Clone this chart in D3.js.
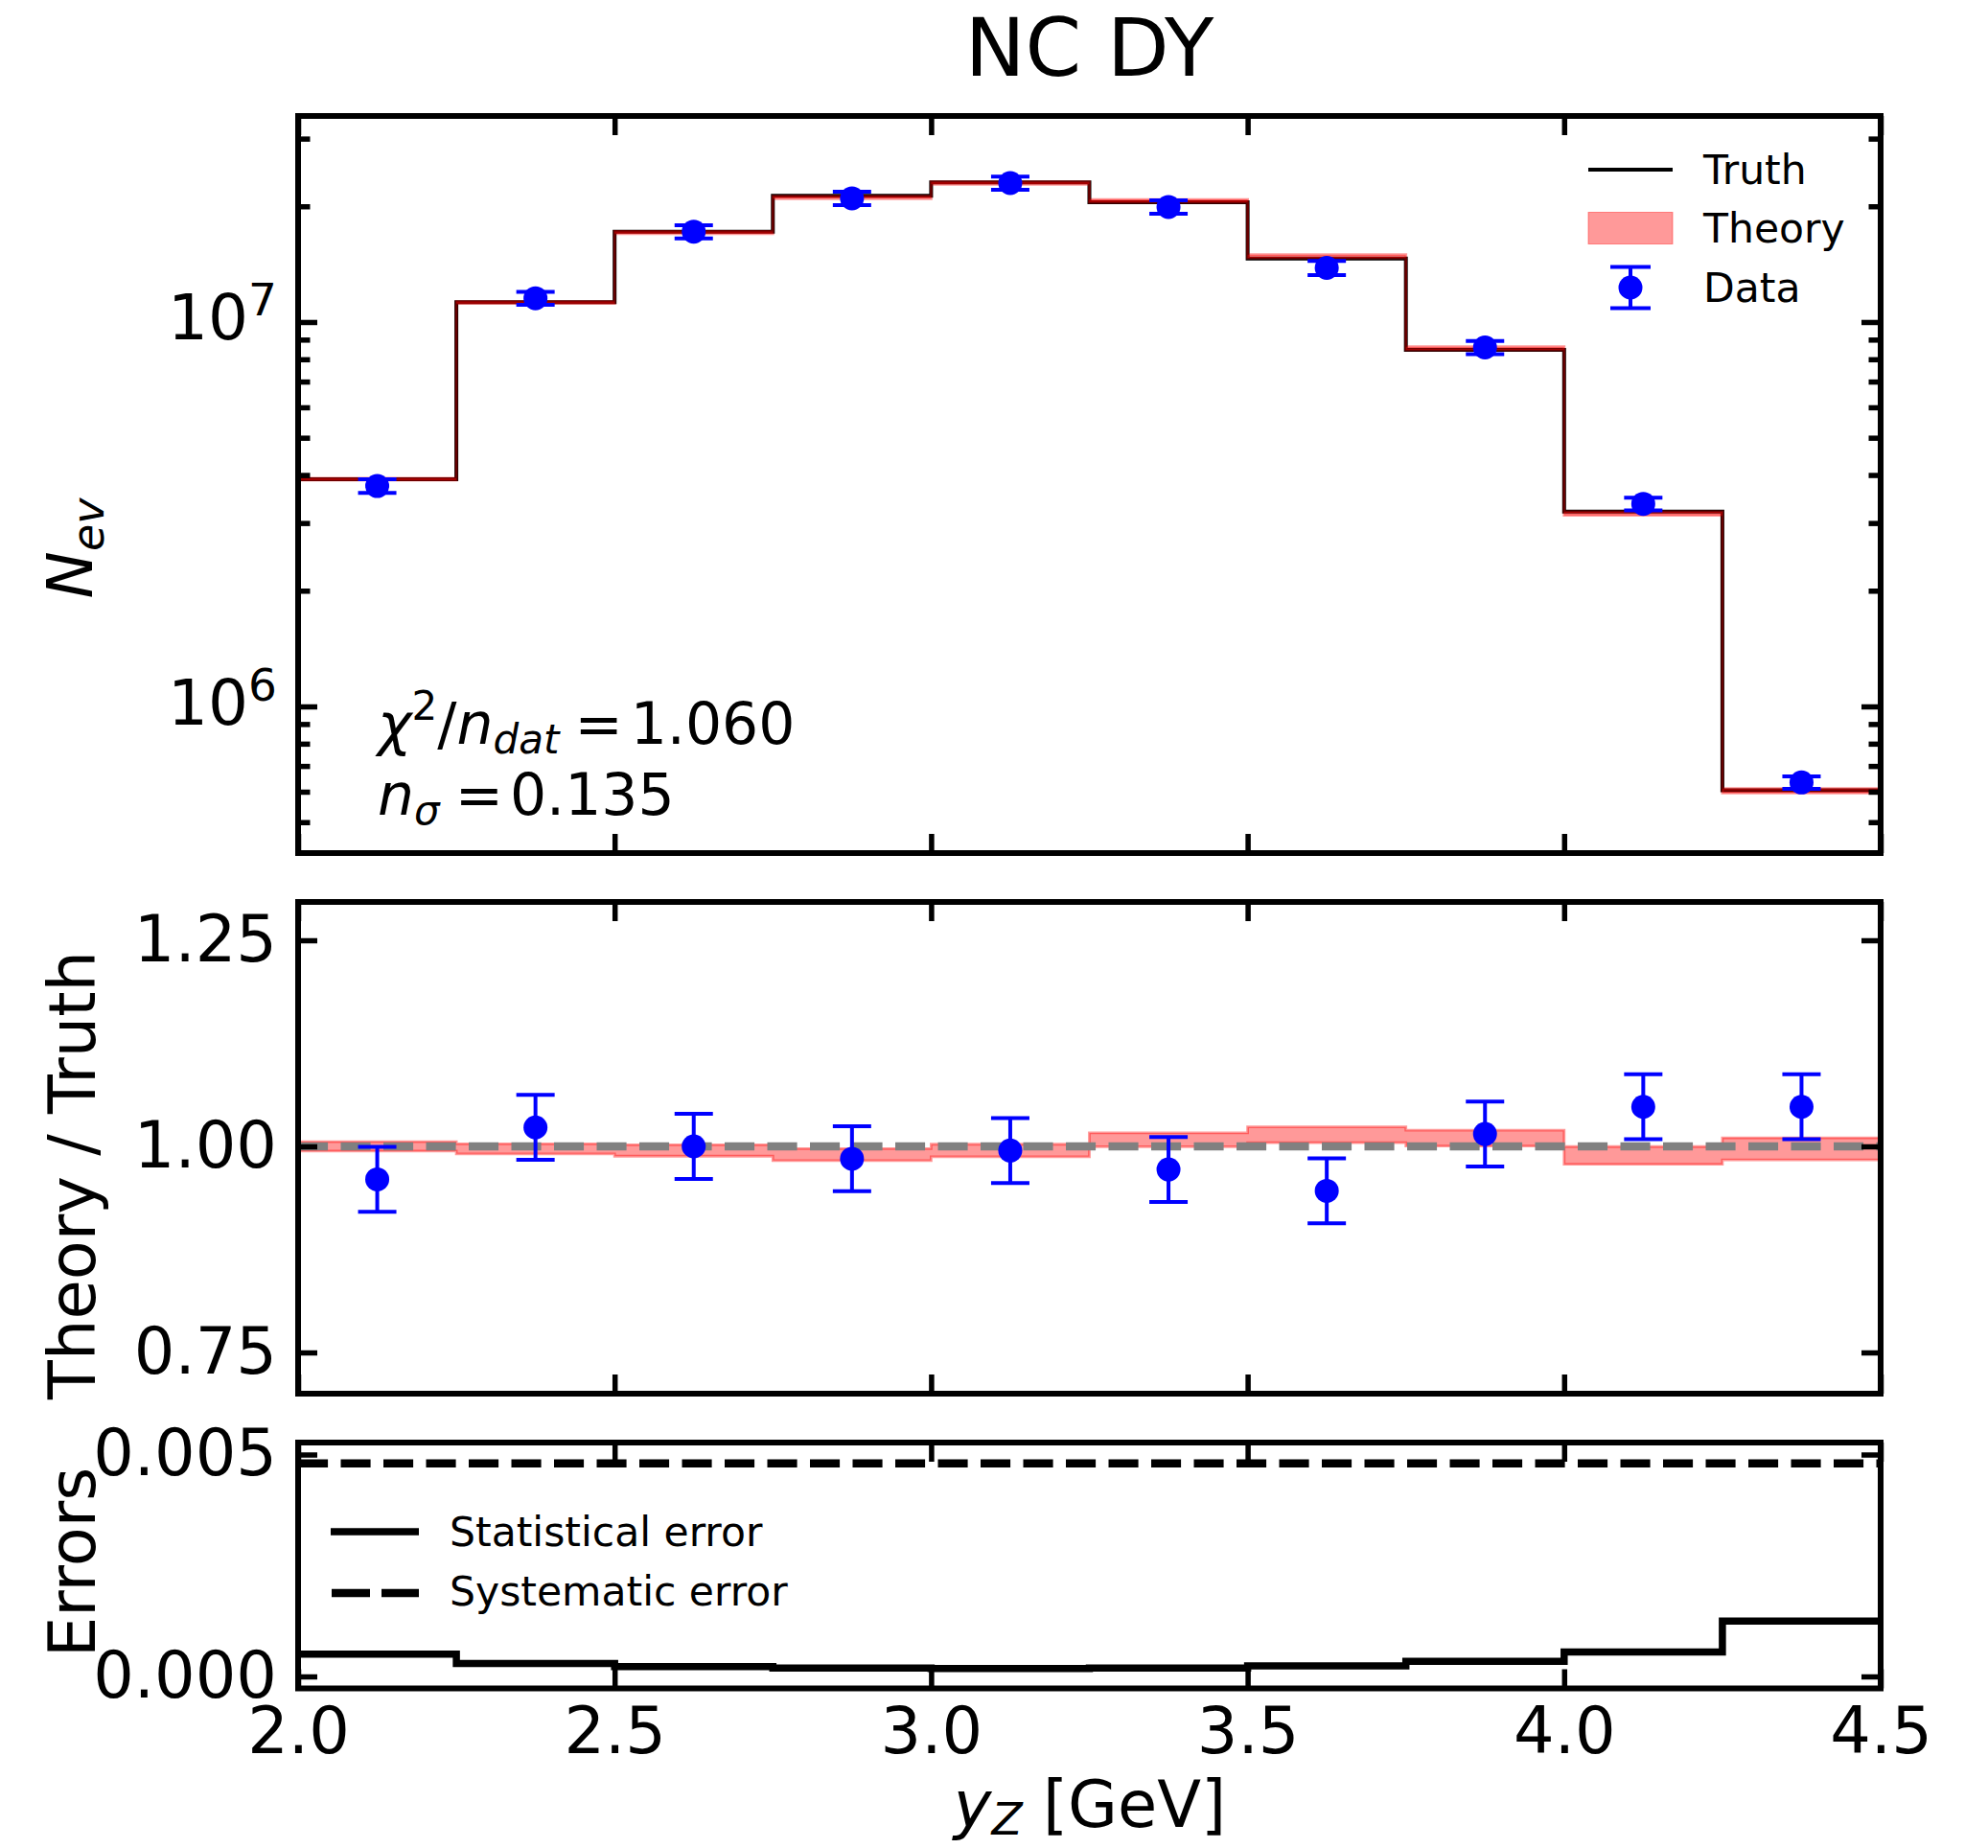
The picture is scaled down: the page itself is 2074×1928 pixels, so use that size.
<!DOCTYPE html>
<html>
<head>
<meta charset="utf-8">
<script src="https://cdn.jsdelivr.net/npm/d3@7"></script>
<style>
  html, body { margin: 0; padding: 0; background: #ffffff; }
  svg { display: block; font-family: "DejaVu Sans", sans-serif; }
</style>
</head>
<body>
<svg id="chart" width="2074" height="1928"></svg>
<script>
// ---------------- data ----------------
const binEdges    = [2.0, 2.25, 2.5, 2.75, 3.0, 3.25, 3.5, 3.75, 4.0, 4.25, 4.5];
const binCenters  = [2.125, 2.375, 2.625, 2.875, 3.125, 3.375, 3.625, 3.875, 4.125, 4.375];
const truthVals   = [3.90e6, 1.127e7, 1.718e7, 2.13e7, 2.31e7, 2.05e7, 1.462e7, 8.46e6, 3.21e6, 6.05e5];
const theoryRatio = [1.000, 0.997, 0.995, 0.990, 0.995, 1.008, 1.014, 1.010, 0.989, 0.997];
const theoryErr   = [0.0057, 0.0061, 0.0069, 0.0073, 0.0076, 0.0084, 0.0096, 0.0096, 0.0107, 0.0134];
const dataRatio   = [0.960, 1.023, 1.000, 0.985, 0.995, 0.972, 0.946, 1.015, 1.048, 1.048];
const dataErr     = [0.0394, 0.0394, 0.0394, 0.0394, 0.0394, 0.0394, 0.0394, 0.0394, 0.0394, 0.0394];
const statErr     = [0.00050, 0.00029, 0.00022, 0.00019, 0.00018, 0.00019, 0.00024, 0.00034, 0.00055, 0.00125];
const sysErr      = [0.0048, 0.0048, 0.0048, 0.0048, 0.0048, 0.0048, 0.0048, 0.0048, 0.0048, 0.0048];
const xTicks      = [2.0, 2.5, 3.0, 3.5, 4.0, 4.5];
const topMajor    = [1e6, 1e7];
const topMinor    = [5e5, 6e5, 7e5, 8e5, 9e5, 2e6, 3e6, 4e6, 5e6, 6e6, 7e6, 8e6, 9e6, 2e7, 3e7];
const midTicks    = [0.75, 1.00, 1.25];
const botTicks    = [0.000, 0.005];
const titleText   = "NC DY";
const chi2Text    = "1.060";
const nsigmaText  = "0.135";
const legendTop   = ["Truth", "Theory", "Data"];
const legendBot   = ["Statistical error", "Systematic error"];

// ---------------- layout ----------------
const X0 = 311, X1 = 1962;
const P = {
  top: [121, 890],
  mid: [941, 1454],
  bot: [1505, 1761.5]
};
const svg = d3.select("#chart");
svg.append("rect").attr("width", 2074).attr("height", 1928).attr("fill", "#fff");

const x = d3.scaleLinear().domain([2.0, 4.5]).range([X0, X1]);
const yTop = d3.scaleLog().domain([Math.pow(10, 5.6185), Math.pow(10, 7.536)]).range([P.top[1], P.top[0]]);
const yMid = d3.scaleLinear().domain([0.700, 1.2965]).range([P.mid[1], P.mid[0]]);
const yBot = d3.scaleLinear().domain([-0.00027, 0.00527]).range([P.bot[1], P.bot[0]]);

const TICKFONT = 67, LABFONT = 67, LEGFONT = 42.5;
const MAJ = 20, MIN = 12.5, TW = 5.5;
const DASH = "31.1,13.4";

function clip(id, p) {
  svg.append("clipPath").attr("id", id).append("rect")
    .attr("x", X0).attr("y", p[0]).attr("width", X1 - X0).attr("height", p[1] - p[0]);
}
clip("cTop", P.top); clip("cMid", P.mid); clip("cBot", P.bot);

function styleAxis(g, showLabels) {
  g.select(".domain").remove();
  g.selectAll(".tick line").attr("stroke", "#000").attr("stroke-width", TW);
  if (!showLabels) g.selectAll(".tick text").remove();
  else g.selectAll(".tick text").attr("fill", "#000").attr("font-size", TICKFONT)
        .attr("font-family", "DejaVu Sans");
}

function xAxes(p, labels) {
  svg.append("g").attr("transform", `translate(0,${p[1]})`)
    .call(d3.axisBottom(x).tickValues(xTicks).tickSizeInner(-MAJ).tickSizeOuter(0)
      .tickPadding(20).tickFormat(d3.format(".1f")))
    .call(g => styleAxis(g, labels));
  svg.append("g").attr("transform", `translate(0,${p[0]})`)
    .call(d3.axisTop(x).tickValues(xTicks).tickSizeInner(-MAJ).tickSizeOuter(0))
    .call(g => styleAxis(g, false));
}

function frame(p) {
  svg.append("rect").attr("x", X0).attr("y", p[0]).attr("width", X1 - X0).attr("height", p[1] - p[0])
    .attr("fill", "none").attr("stroke", "#000").attr("stroke-width", 6);
}

function stepPoints(vals, f) {
  const pts = [];
  vals.forEach((v, i) => { pts.push([binEdges[i], f(v, i)]); pts.push([binEdges[i + 1], f(v, i)]); });
  return pts;
}

// ================= TOP PANEL =================
const gTop = svg.append("g").attr("clip-path", "url(#cTop)");
const lineTop = d3.line().x(d => x(d[0])).y(d => yTop(d[1]));
// Truth (black step)
gTop.append("path").attr("d", lineTop(stepPoints(truthVals, v => v)))
  .attr("fill", "none").attr("stroke", "#000").attr("stroke-width", 4);
// Theory band (red alpha, fill + edge)
{
  const up = stepPoints(truthVals, (v, i) => v * theoryRatio[i] * (1 + theoryErr[i]));
  const lo = stepPoints(truthVals, (v, i) => v * theoryRatio[i] * (1 - theoryErr[i])).reverse();
  gTop.append("path").attr("d", lineTop(up.concat(lo)) + "Z")
    .attr("fill", "rgba(255,0,0,0.4)").attr("stroke", "rgba(255,0,0,0.4)").attr("stroke-width", 2.8);
}
// Data points
function drawData(g, yS, valF, errF) {
  binCenters.forEach((c, i) => {
    const cx = x(c), v = valF(i), e = errF(i);
    const y1 = yS(v + e), y2 = yS(v - e);
    g.append("line").attr("x1", cx).attr("x2", cx).attr("y1", y1).attr("y2", y2)
      .attr("stroke", "#0000ff").attr("stroke-width", 4);
    [y1, y2].forEach(yy => g.append("line").attr("x1", cx - 20).attr("x2", cx + 20)
      .attr("y1", yy).attr("y2", yy).attr("stroke", "#0000ff").attr("stroke-width", 4));
    g.append("circle").attr("cx", cx).attr("cy", yS(v)).attr("r", 12.5).attr("fill", "#0000ff");
  });
}
drawData(gTop, yTop, i => truthVals[i] * dataRatio[i], i => truthVals[i] * dataErr[i]);

frame(P.top);
xAxes(P.top, false);
// y axes top (log)
svg.append("g").attr("transform", `translate(${X0},0)`)
  .call(d3.axisLeft(yTop).tickValues(topMajor).tickSizeInner(-MAJ).tickSizeOuter(0).tickPadding(22)
    .tickFormat(d => "10"))
  .call(g => styleAxis(g, true))
  .call(g => g.selectAll(".tick text").attr("font-size", 66).attr("dy", null).attr("y", 18)
    .each(function(d) {
      d3.select(this).append("tspan").attr("font-size", 47).attr("dy", -25)
        .text(Math.round(Math.log10(d)));
    }));
svg.append("g").attr("transform", `translate(${X0},0)`)
  .call(d3.axisLeft(yTop).tickValues(topMinor).tickSizeInner(-MIN).tickSizeOuter(0))
  .call(g => styleAxis(g, false));
svg.append("g").attr("transform", `translate(${X1},0)`)
  .call(d3.axisRight(yTop).tickValues(topMajor).tickSizeInner(-MAJ).tickSizeOuter(0))
  .call(g => styleAxis(g, false));
svg.append("g").attr("transform", `translate(${X1},0)`)
  .call(d3.axisRight(yTop).tickValues(topMinor).tickSizeInner(-MIN).tickSizeOuter(0))
  .call(g => styleAxis(g, false));

// Legend (top)
{
  const lg = svg.append("g").attr("font-size", LEGFONT).attr("fill", "#000");
  const hx0 = 1657, hx1 = 1745, tx = 1777;
  const rowsY = [177, 238, 300];
  lg.append("line").attr("x1", hx0).attr("x2", hx1).attr("y1", rowsY[0]).attr("y2", rowsY[0])
    .attr("stroke", "#000").attr("stroke-width", 4);
  lg.append("rect").attr("x", hx0).attr("y", rowsY[1] - 16.5).attr("width", hx1 - hx0).attr("height", 33)
    .attr("fill", "rgba(255,0,0,0.4)").attr("stroke", "rgba(255,0,0,0.4)").attr("stroke-width", 1);
  const mx = (hx0 + hx1) / 2;
  lg.append("line").attr("x1", mx).attr("x2", mx).attr("y1", rowsY[2] - 21.5).attr("y2", rowsY[2] + 21.5)
    .attr("stroke", "#0000ff").attr("stroke-width", 4);
  [rowsY[2] - 21.5, rowsY[2] + 21.5].forEach(yy => lg.append("line").attr("x1", mx - 21).attr("x2", mx + 21)
    .attr("y1", yy).attr("y2", yy).attr("stroke", "#0000ff").attr("stroke-width", 4));
  lg.append("circle").attr("cx", mx).attr("cy", rowsY[2]).attr("r", 12.5).attr("fill", "#0000ff");
  legendTop.forEach((t, i) => lg.append("text").attr("x", tx).attr("y", rowsY[i] + 15).text(t));
}

// annotations
{
  const t1 = svg.append("text").attr("x", 394).attr("y", 776).attr("font-size", 60).attr("fill", "#000");
  t1.append("tspan").attr("font-style", "italic").text("χ");
  t1.append("tspan").attr("font-size", 42).attr("dy", -25).text("2");
  t1.append("tspan").attr("dy", 25).text("/");
  t1.append("tspan").attr("font-style", "italic").text("n");
  t1.append("tspan").attr("font-style", "italic").attr("font-size", 42).attr("dy", 10).text("dat");
  t1.append("tspan").attr("dy", -10).attr("dx", 16).text("=");
  t1.append("tspan").attr("dx", 8).text(chi2Text);
  const t2 = svg.append("text").attr("x", 394).attr("y", 850).attr("font-size", 60).attr("fill", "#000");
  t2.append("tspan").attr("font-style", "italic").text("n");
  t2.append("tspan").attr("font-style", "italic").attr("font-size", 42).attr("dy", 10).text("σ");
  t2.append("tspan").attr("dy", -10).attr("dx", 16).text("=");
  t2.append("tspan").attr("dx", 7).text(nsigmaText);
}

// ================= MIDDLE PANEL =================
const gMid = svg.append("g").attr("clip-path", "url(#cMid)");
const lineMid = d3.line().x(d => x(d[0])).y(d => yMid(d[1]));
{
  const up = stepPoints(theoryRatio, (v, i) => v + theoryErr[i]);
  const lo = stepPoints(theoryRatio, (v, i) => v - theoryErr[i]).reverse();
  gMid.append("path").attr("d", lineMid(up.concat(lo)) + "Z")
    .attr("fill", "rgba(255,0,0,0.4)").attr("stroke", "rgba(255,0,0,0.4)").attr("stroke-width", 2.8);
}
gMid.append("line").attr("x1", x(2.0)).attr("x2", x(4.5)).attr("y1", yMid(1)).attr("y2", yMid(1))
  .attr("stroke", "#808080").attr("stroke-width", 8.4).attr("stroke-dasharray", DASH);
drawData(gMid, yMid, i => dataRatio[i], i => dataErr[i]);
frame(P.mid);
xAxes(P.mid, false);
svg.append("g").attr("transform", `translate(${X0},0)`)
  .call(d3.axisLeft(yMid).tickValues(midTicks).tickSizeInner(-MAJ).tickSizeOuter(0).tickPadding(22)
    .tickFormat(d3.format(".2f")))
  .call(g => styleAxis(g, true));
svg.append("g").attr("transform", `translate(${X1},0)`)
  .call(d3.axisRight(yMid).tickValues(midTicks).tickSizeInner(-MAJ).tickSizeOuter(0))
  .call(g => styleAxis(g, false));

// ================= BOTTOM PANEL =================
const gBot = svg.append("g").attr("clip-path", "url(#cBot)");
const lineBot = d3.line().x(d => x(d[0])).y(d => yBot(d[1]));
gBot.append("path").attr("d", lineBot(stepPoints(sysErr, v => v)))
  .attr("fill", "none").attr("stroke", "#000").attr("stroke-width", 8.4).attr("stroke-dasharray", DASH);
gBot.append("path").attr("d", lineBot(stepPoints(statErr, v => v)))
  .attr("fill", "none").attr("stroke", "#000").attr("stroke-width", 7.5);
frame(P.bot);
xAxes(P.bot, true);
svg.append("g").attr("transform", `translate(${X0},0)`)
  .call(d3.axisLeft(yBot).tickValues(botTicks).tickSizeInner(-MAJ).tickSizeOuter(0).tickPadding(22)
    .tickFormat(d3.format(".3f")))
  .call(g => styleAxis(g, true));
svg.append("g").attr("transform", `translate(${X1},0)`)
  .call(d3.axisRight(yBot).tickValues(botTicks).tickSizeInner(-MAJ).tickSizeOuter(0))
  .call(g => styleAxis(g, false));
// bottom legend
{
  const lg = svg.append("g").attr("font-size", LEGFONT).attr("fill", "#000");
  lg.append("line").attr("x1", 345).attr("x2", 437).attr("y1", 1598).attr("y2", 1598)
    .attr("stroke", "#000").attr("stroke-width", 7.5);
  lg.append("line").attr("x1", 346).attr("x2", 437).attr("y1", 1662).attr("y2", 1662)
    .attr("stroke", "#000").attr("stroke-width", 8.4).attr("stroke-dasharray", "40,12");
  legendBot.forEach((t, i) => lg.append("text").attr("x", 469).attr("y", 1613 + i * 62).text(t));
}

// ================= LABELS =================
svg.append("text").attr("x", (X0 + X1) / 2).attr("y", 79).attr("text-anchor", "middle")
  .attr("font-size", 84).attr("fill", "#000").text(titleText);
{
  const t = svg.append("text").attr("transform", "translate(96,572) rotate(-90)")
    .attr("text-anchor", "middle").attr("font-size", 66).attr("fill", "#000");
  t.append("tspan").attr("font-style", "italic").text("N");
  t.append("tspan").attr("font-style", "italic").attr("font-size", 46).attr("dy", 12).text("ev");
}
svg.append("text").attr("transform", "translate(99,1226) rotate(-90)").attr("text-anchor", "middle")
  .attr("font-size", LABFONT).attr("fill", "#000").text("Theory / Truth");
svg.append("text").attr("transform", "translate(99,1630) rotate(-90)").attr("text-anchor", "middle")
  .attr("font-size", LABFONT).attr("fill", "#000").text("Errors");
{
  const t = svg.append("text").attr("x", 1137).attr("y", 1906).attr("text-anchor", "middle")
    .attr("font-size", LABFONT).attr("fill", "#000");
  t.append("tspan").attr("font-style", "italic").text("y");
  t.append("tspan").attr("font-style", "italic").attr("font-size", 47).attr("dy", 8).text("Z");
  t.append("tspan").attr("dy", -8).text(" [GeV]");
}
</script>
</body>
</html>
